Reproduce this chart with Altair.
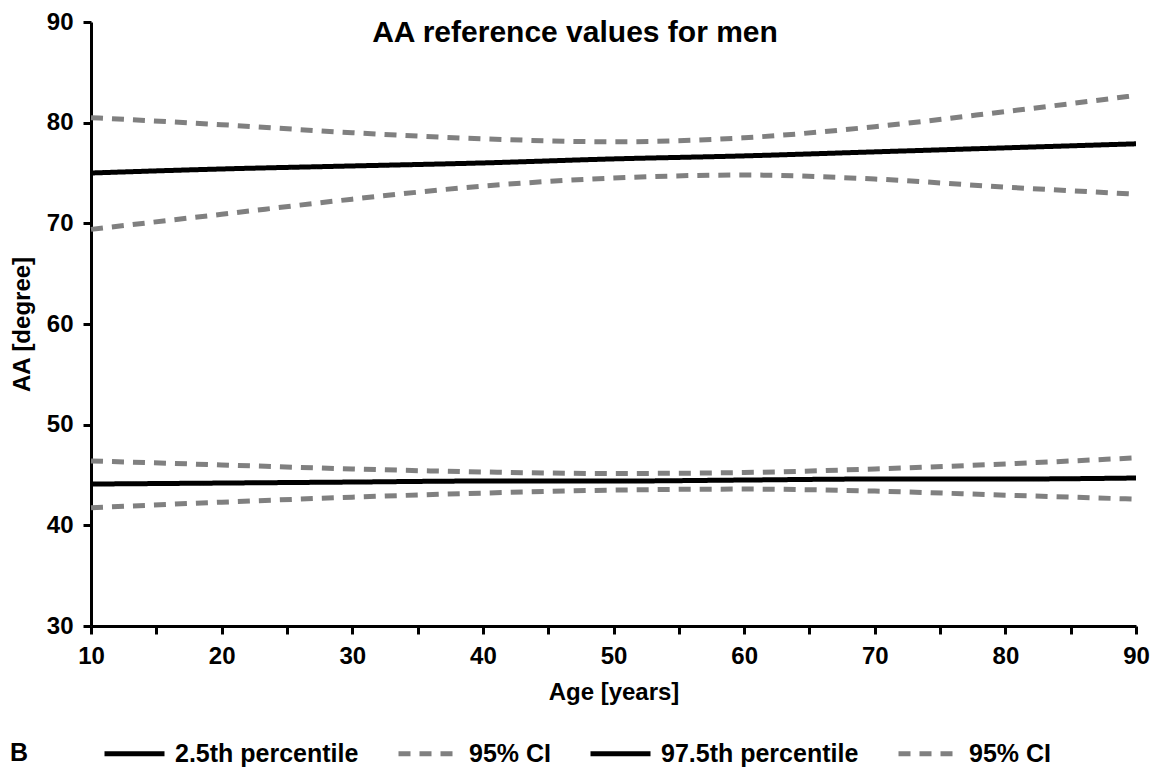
import altair as alt
import pandas as pd

FONT = "Liberation Sans"

ages = [10, 20, 30, 40, 50, 60, 70, 80, 90]
p975 = [75.0, 75.4, 75.7, 76.0, 76.4, 76.7, 77.1, 77.5, 77.9]
p975_ci_upper = [80.5, 79.8, 79.0, 78.4, 78.1, 78.5, 79.6, 81.1, 82.7]
p975_ci_lower = [69.4, 70.9, 72.4, 73.7, 74.5, 74.8, 74.4, 73.6, 72.9]
p025 = [44.1, 44.2, 44.3, 44.4, 44.4, 44.5, 44.6, 44.6, 44.7]
p025_ci_upper = [46.4, 46.0, 45.6, 45.3, 45.15, 45.25, 45.6, 46.1, 46.7]
p025_ci_lower = [41.75, 42.3, 42.8, 43.2, 43.5, 43.6, 43.4, 43.0, 42.6]

group_keys = ["p025", "ci_lo", "p975", "ci_hi"]
group_labels = ["2.5th percentile", "95% CI", "97.5th percentile", "95% CI"]
group_colors = ["#000000", "#808080", "#000000", "#808080"]
group_dashes = [[1, 0], [12, 9], [1, 0], [12, 9]]

title_text = "AA reference values for men"
x_title = "Age [years]"
y_title = "AA [degree]"
panel_letter = "B"

series = [
    ("p025", "p025", p025),
    ("p025_u", "ci_lo", p025_ci_upper),
    ("p025_l", "ci_lo", p025_ci_lower),
    ("p975", "p975", p975),
    ("p975_u", "ci_hi", p975_ci_upper),
    ("p975_l", "ci_hi", p975_ci_lower),
]
rows = []
for line_id, grp, vals in series:
    for a, v in zip(ages, vals):
        rows.append({"age": a, "value": v, "line": line_id, "group": grp})
df = pd.DataFrame(rows)

label_expr = " : ".join(
    f"datum.label == '{k}' ? '{l}'" for k, l in zip(group_keys, group_labels)
) + " : ''"

leg = alt.Legend(
    title=None,
    orient="none",
    legendX=11,
    legendY=699,
    direction="horizontal",
    symbolType="stroke",
    symbolSize=3600,
    symbolStrokeWidth=5,
    labelFont=FONT,
    labelFontSize=25,
    labelFontWeight="bold",
    labelColor="#000000",
    labelOffset=8,
    columnPadding=29,
    padding=0,
    labelExpr=label_expr,
    labelLimit=400,
)

x_ticks = list(range(10, 91, 5))

lines = alt.Chart(df).mark_line(strokeWidth=5, interpolate="monotone").encode(
    x=alt.X(
        "age:Q",
        scale=alt.Scale(domain=[10, 90], nice=False),
        axis=alt.Axis(
            title=x_title,
            values=x_ticks,
            labelExpr="datum.value % 10 == 0 ? datum.label : ''",
            labelFlush=False,
            titlePadding=12,
        ),
    ),
    y=alt.Y(
        "value:Q",
        scale=alt.Scale(domain=[30, 90], nice=False),
        axis=alt.Axis(title=y_title, values=[30, 40, 50, 60, 70, 80, 90], labelFlush=False, titlePadding=12),
    ),
    color=alt.Color("group:N", scale=alt.Scale(domain=group_keys, range=group_colors), legend=leg),
    strokeDash=alt.StrokeDash("group:N", scale=alt.Scale(domain=group_keys, range=group_dashes), legend=leg),
    detail="line:N",
)

title_mark = alt.Chart(pd.DataFrame({"t": [title_text]})).mark_text(
    font=FONT, fontSize=30, fontWeight="bold", color="#000000", align="center", baseline="alphabetic"
).encode(text="t:N", x=alt.value(484), y=alt.value(20))

letter_mark = alt.Chart(pd.DataFrame({"t": [panel_letter]})).mark_text(
    font=FONT, fontSize=25, fontWeight="bold", color="#000000", align="left", baseline="alphabetic"
).encode(text="t:N", x=alt.value(-81), y=alt.value(739))

chart = alt.layer(lines, title_mark, letter_mark).properties(
    width=1045,
    height=604,
    padding={"left": 83, "top": 14, "right": 15, "bottom": 141},
    autosize=alt.AutoSizeParams(type="none"),
).configure_view(stroke=None).configure_axis(
    grid=False,
    domainColor="#000000",
    domainWidth=3,
    tickColor="#000000",
    tickWidth=3,
    tickSize=8,
    labelFont=FONT,
    labelFontSize=24,
    labelFontWeight="bold",
    labelColor="#000000",
    labelPadding=10,
    titleFont=FONT,
    titleFontSize=24,
    titleFontWeight="bold",
    titleColor="#000000",
)

chart.save("out.html", embed_options={"renderer": "svg", "actions": False})
